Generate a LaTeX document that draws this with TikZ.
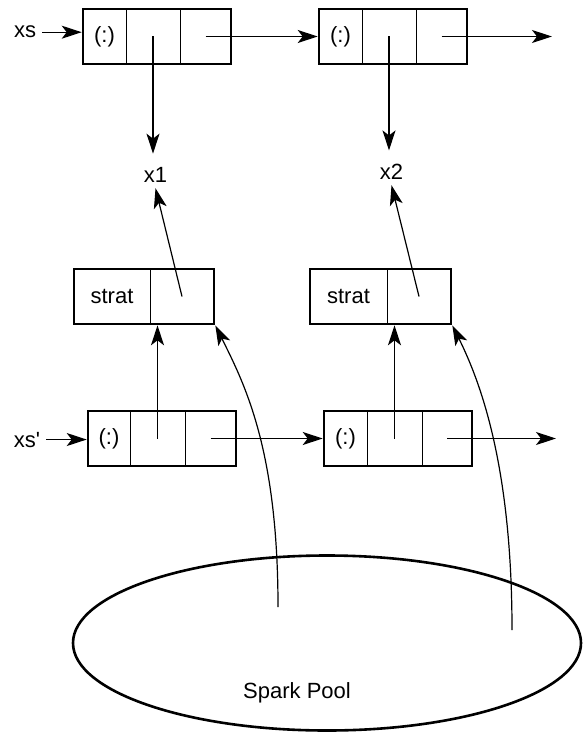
\documentclass[tikz,border=0pt]{standalone}
\usepackage{fontspec}
\setmainfont{Liberation Sans}
\usepackage{tikz}
\usetikzlibrary{arrows.meta}
\usetikzlibrary{positioning}
\usetikzlibrary{fit}
\usetikzlibrary{shapes.geometric}

\begin{document}
\begin{tikzpicture}[x=1pt,y=-1pt,
        font=\fontsize{22}{26}\selectfont,
        cell/.style={draw,line width=1pt,minimum height=55pt,inner sep=0pt,outer sep=0pt},
        frame/.style={draw,line width=2.6pt,inner sep=0pt},
        label/.style={anchor=base,inner sep=6pt}]
        \useasboundingbox (0,0) rectangle (587,733);

        % top list
        \node[cell,minimum width=43pt,anchor=west] (t1a) at (83,36.5) {(:)};
        \node[cell,minimum width=54pt,right=0pt of t1a] (t1b) {};
        \node[cell,minimum width=51pt,right=0pt of t1b] (t1c) {};
        \node[frame,fit=(t1a)(t1c)] (t1) {};
        \node[cell,minimum width=43pt,anchor=west] (t2a) at (319,36.5) {(:)};
        \node[cell,minimum width=54pt,right=0pt of t2a] (t2b) {};
        \node[cell,minimum width=51pt,right=0pt of t2b] (t2c) {};
        \node[frame,fit=(t2a)(t2c)] (t2) {};

        % strat boxes
        \node[cell,minimum width=76pt,anchor=west] (s1a) at (74,296.5) {strat};
        \node[cell,minimum width=64pt,right=0pt of s1a] (s1b) {};
        \node[frame,fit=(s1a)(s1b)] (s1) {};
        \node[cell,minimum width=77pt,anchor=west] (s2a) at (310,296.5) {strat};
        \node[cell,minimum width=64pt,right=0pt of s2a] (s2b) {};
        \node[frame,fit=(s2a)(s2b)] (s2) {};

        % bottom list
        \node[cell,minimum width=42pt,anchor=west] (b1a) at (88,438.5) {(:)};
        \node[cell,minimum width=55pt,right=0pt of b1a] (b1b) {};
        \node[cell,minimum width=51pt,right=0pt of b1b] (b1c) {};
        \node[frame,fit=(b1a)(b1c)] (b1) {};
        \node[cell,minimum width=43pt,anchor=west] (b2a) at (324,438.5) {(:)};
        \node[cell,minimum width=55pt,right=0pt of b2a] (b2b) {};
        \node[cell,minimum width=50pt,right=0pt of b2b] (b2c) {};
        \node[frame,fit=(b2a)(b2c)] (b2) {};

        \node[label] (xs) at (25,38) {xs};
        \node[label] (xsp) at (27,447) {xs\textquotesingle};
        \node[label] (x1) at (155.5,182) {x1};
        \node[label] (x2) at (391.5,179) {x2};

        \node[draw,ellipse,line width=2.6pt,minimum width=508pt,minimum height=175pt] (pool) at (327,643) {};
        \node[anchor=base] (spark) at (297,698) {Spark Pool};
        \coordinate (sp1) at (278,607);
        \coordinate (sp2) at (512,630);
        \coordinate (t2end) at (552,36.5);
        \coordinate (b2end) at (556,438.5);

        \begin{scope}[>={Stealth[length=20pt,width=13pt,inset=5pt]},
                every edge/.style={draw,line width=1.2pt}]
            \path [->] (xs.east) edge (xs.east -| t1.west);
            \path [->] (xsp.east) edge (xsp.east -| b1.west);
            \path [->] (t1c.center) edge (t2.west);
            \path [->] (t2c.center) edge (t2end);
            \path [->] (b1c.center) edge (b2.west);
            \path [->] (b2c.center) edge (b2end);
            \path [->,shorten >=7pt] (t1b.center) edge (t1b.center |- x1.north);
            \path [->,shorten >=7pt] (t2b.center) edge (t2b.center |- x2.north);
            \path [->] (s1b.center) edge (x1.south);
            \path [->] (s2b.center) edge (x2.south);
            \path [->] (b1b.center) edge (b1b.center |- s1.south);
            \path [->] (b2b.center) edge (b2b.center |- s2.south);
            \path [->] (sp1) edge[to path={.. controls (278,450) and (245,385) .. (\tikztotarget)}] (s1.south east);
            \path [->] (sp2) edge[to path={.. controls (512,470) and (482,385) .. (\tikztotarget)}] (s2.south east);
        \end{scope}
    \end{tikzpicture}
\end{document}
